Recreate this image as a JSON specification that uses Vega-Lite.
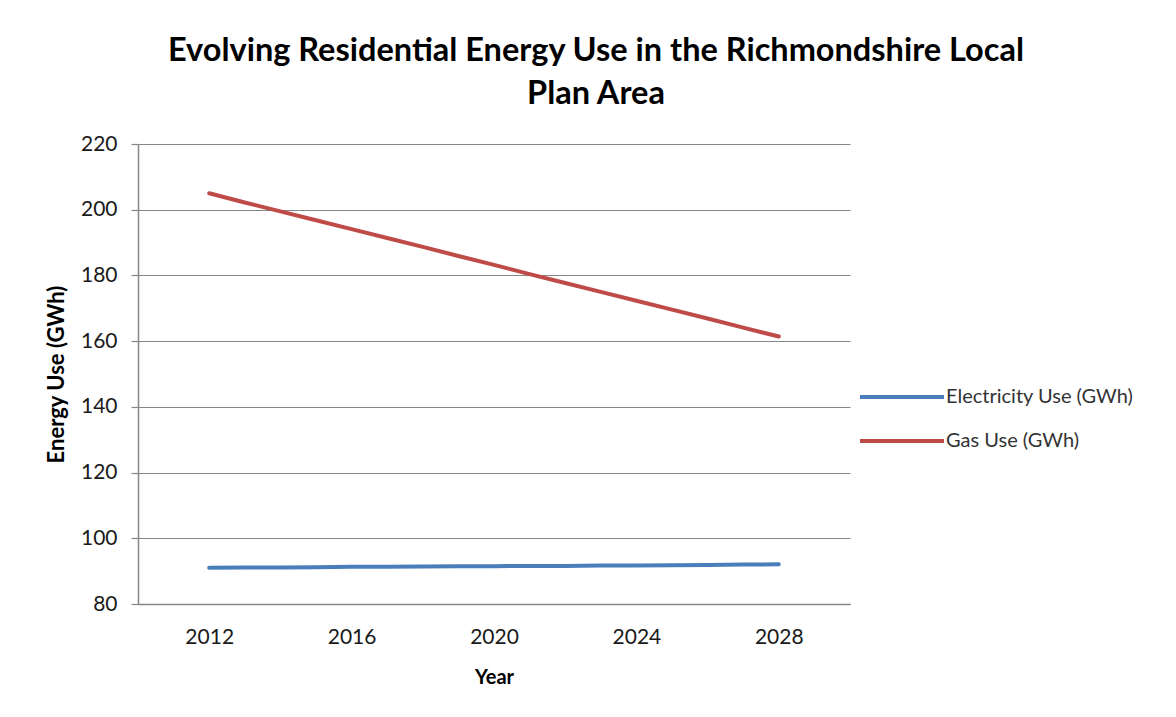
{
  "$schema": "https://vega.github.io/schema/vega-lite/v6.json",
  "width": 712,
  "height": 460,
  "autosize": {"type": "none"},
  "padding": {"left": 138, "top": 144, "right": 326, "bottom": 113},
  "background": "white",
  "title": {
    "text": ["Evolving Residential Energy Use in the Richmondshire Local", "Plan Area"],
    "anchor": "middle",
    "dx": 102,
    "font": "Lato",
    "fontSize": 32.5,
    "fontWeight": "bold",
    "color": "#000000",
    "lineHeight": 43,
    "offset": 23
  },
  "data": {
    "values": [
      {"year": 2012, "series": "Electricity Use (GWh)", "value": 91.0},
      {"year": 2013, "series": "Electricity Use (GWh)", "value": 91.1},
      {"year": 2014, "series": "Electricity Use (GWh)", "value": 91.1},
      {"year": 2015, "series": "Electricity Use (GWh)", "value": 91.2},
      {"year": 2016, "series": "Electricity Use (GWh)", "value": 91.3},
      {"year": 2017, "series": "Electricity Use (GWh)", "value": 91.3},
      {"year": 2018, "series": "Electricity Use (GWh)", "value": 91.4},
      {"year": 2019, "series": "Electricity Use (GWh)", "value": 91.5},
      {"year": 2020, "series": "Electricity Use (GWh)", "value": 91.5},
      {"year": 2021, "series": "Electricity Use (GWh)", "value": 91.6},
      {"year": 2022, "series": "Electricity Use (GWh)", "value": 91.6},
      {"year": 2023, "series": "Electricity Use (GWh)", "value": 91.7},
      {"year": 2024, "series": "Electricity Use (GWh)", "value": 91.7},
      {"year": 2025, "series": "Electricity Use (GWh)", "value": 91.8},
      {"year": 2026, "series": "Electricity Use (GWh)", "value": 91.9},
      {"year": 2027, "series": "Electricity Use (GWh)", "value": 92.0},
      {"year": 2028, "series": "Electricity Use (GWh)", "value": 92.1},
      {"year": 2012, "series": "Gas Use (GWh)", "value": 205.0},
      {"year": 2013, "series": "Gas Use (GWh)", "value": 202.2},
      {"year": 2014, "series": "Gas Use (GWh)", "value": 199.5},
      {"year": 2015, "series": "Gas Use (GWh)", "value": 196.8},
      {"year": 2016, "series": "Gas Use (GWh)", "value": 194.1},
      {"year": 2017, "series": "Gas Use (GWh)", "value": 191.4},
      {"year": 2018, "series": "Gas Use (GWh)", "value": 188.7},
      {"year": 2019, "series": "Gas Use (GWh)", "value": 185.9},
      {"year": 2020, "series": "Gas Use (GWh)", "value": 183.2},
      {"year": 2021, "series": "Gas Use (GWh)", "value": 180.4},
      {"year": 2022, "series": "Gas Use (GWh)", "value": 177.7},
      {"year": 2023, "series": "Gas Use (GWh)", "value": 175.0},
      {"year": 2024, "series": "Gas Use (GWh)", "value": 172.3},
      {"year": 2025, "series": "Gas Use (GWh)", "value": 169.6},
      {"year": 2026, "series": "Gas Use (GWh)", "value": 166.9},
      {"year": 2027, "series": "Gas Use (GWh)", "value": 164.1},
      {"year": 2028, "series": "Gas Use (GWh)", "value": 161.4}
    ]
  },
  "mark": {"type": "line", "strokeWidth": 4, "strokeCap": "round"},
  "encoding": {
    "x": {
      "field": "year",
      "type": "quantitative",
      "scale": {"domain": [2010, 2030], "nice": false, "zero": false},
      "axis": {
        "title": "Year",
        "values": [2012, 2016, 2020, 2024, 2028],
        "format": "d",
        "grid": false,
        "ticks": false,
        "domainColor": "#868686",
        "domainWidth": 1.5,
        "labelFont": "Lato",
        "labelFontSize": 21,
        "labelColor": "#1a1a1a",
        "labelPadding": 22,
        "titleFont": "Lato",
        "titleFontSize": 20,
        "titleFontWeight": "bold",
        "titleColor": "#000000",
        "titlePadding": 20
      }
    },
    "y": {
      "field": "value",
      "type": "quantitative",
      "scale": {"domain": [80, 220], "nice": false, "zero": false},
      "axis": {
        "title": "Energy Use (GWh)",
        "values": [80, 100, 120, 140, 160, 180, 200, 220],
        "grid": true,
        "gridColor": "#868686",
        "gridWidth": 1.2,
        "domainColor": "#868686",
        "domainWidth": 1.5,
        "tickColor": "#868686",
        "tickSize": 7,
        "tickWidth": 1.2,
        "labelFont": "Lato",
        "labelFontSize": 21,
        "labelColor": "#1a1a1a",
        "labelPadding": 14,
        "titleFont": "Lato",
        "titleFontSize": 22,
        "titleFontWeight": "bold",
        "titleColor": "#000000",
        "titlePadding": 12
      }
    },
    "color": {
      "field": "series",
      "type": "nominal",
      "scale": {"domain": ["Electricity Use (GWh)", "Gas Use (GWh)"], "range": ["#4A7EBB", "#BE4B48"]},
      "legend": {
        "title": null,
        "orient": "none",
        "legendX": 720,
        "legendY": 242,
        "symbolType": "stroke",
        "symbolSize": 7056,
        "symbolStrokeWidth": 4,
        "clipHeight": 22,
        "rowPadding": 22,
        "labelOffset": 0,
        "labelFont": "Lato",
        "labelFontSize": 20,
        "labelColor": "#333333",
        "labelLimit": 400
      }
    }
  },
  "config": {"view": {"stroke": null}}
}
